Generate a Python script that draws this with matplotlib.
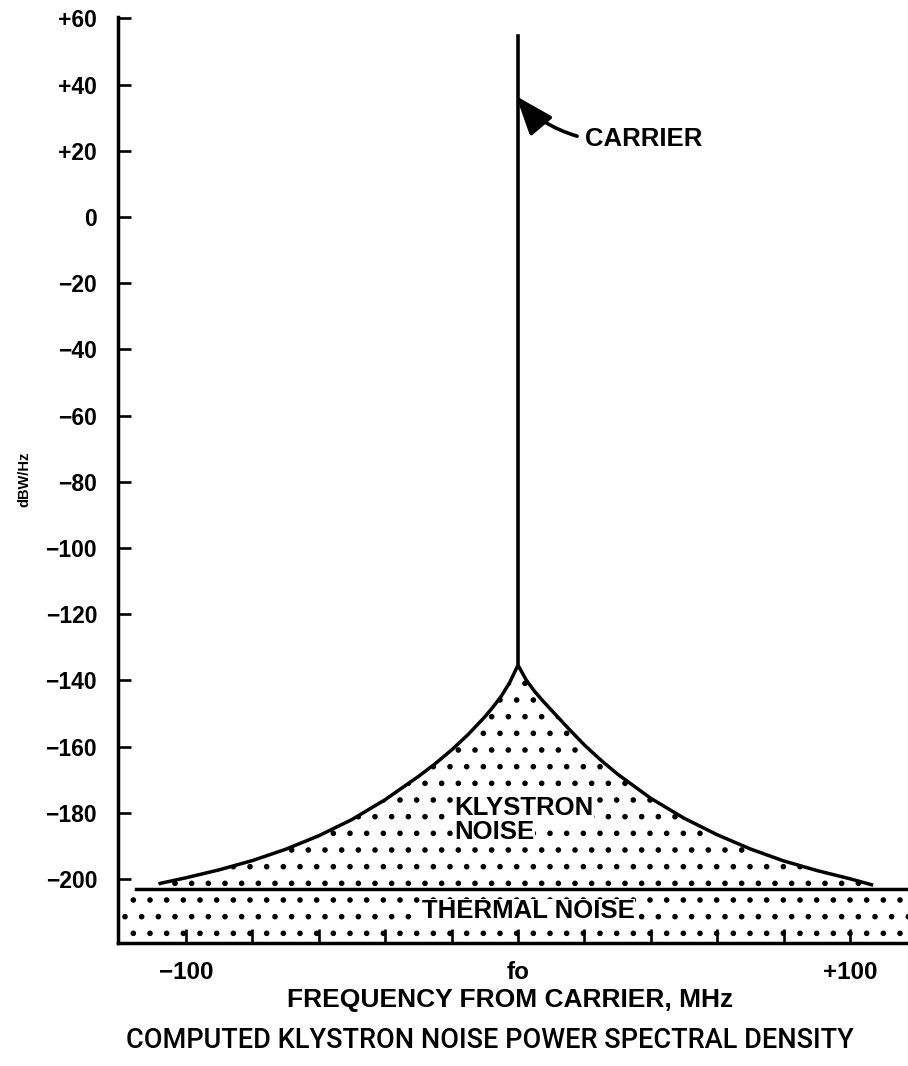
import numpy as np
import matplotlib
matplotlib.use("Agg")
import matplotlib.pyplot as plt

# Values (dBW/Hz vs MHz from carrier)
klystron_freq = [-107.8, -100, -90, -80, -70, -60, -50, -40, -30, -25, -20, -15, -10, -7.5, -5, -2.5, 0,
                 2.5, 5, 7.5, 10, 15, 20, 25, 30, 40, 50, 60, 70, 80, 90, 100, 106.5]
klystron_psd = [-201.3, -199.6, -197.2, -194.4, -191.0, -186.9, -182.0, -176.0, -169.0, -165.2,
                -161.0, -156.3, -151.0, -148.0, -144.7, -140.6, -135.4,
                -139.9, -143.3, -146.2, -148.9, -154.3, -159.5, -164.1, -168.3, -175.6, -181.6,
                -186.6, -190.9, -194.5, -197.4, -199.9, -201.7]
carrier_freq = 0.0
carrier_base = -135.4
carrier_top = 54.6
thermal_level = -203.0
thermal_start = -115.0

ytick_values = [60, 40, 20, 0, -20, -40, -60, -80, -100, -120, -140, -160, -180, -200]
ytick_labels = ["+60", "+40", "+20", "0", "\u221220", "\u221240", "\u221260", "\u221280",
                "\u2212100", "\u2212120", "\u2212140", "\u2212160", "\u2212180", "\u2212200"]
xtick_values = [-100, -80, -60, -40, -20, 0, 20, 40, 60, 80, 100]
xtick_labels = ["\u2212100", "", "", "", "", "fo", "", "", "", "", "+100"]

plt.rcParams['font.family'] = ['Liberation Sans', 'DejaVu Sans']
plt.rcParams['hatch.linewidth'] = 1.6

fig = plt.figure(figsize=(9.08, 10.66), dpi=100)
ax = fig.add_axes([0.130, 0.1154, 0.870, 0.869])
ax.set_xlim(-120.5, 117.5)
ax.set_ylim(-219.3, 60.5)

# stippled areas
x0, x1 = ax.get_xlim()
y0 = ax.get_ylim()[0]
ax.fill_between(klystron_freq, klystron_psd, thermal_level, facecolor='none',
                edgecolor='black', hatch='.', linewidth=0)
ax.fill_between([x0, x1], y0, thermal_level, facecolor='none',
                edgecolor='black', hatch='.', linewidth=0)

# curves
ax.plot(klystron_freq, klystron_psd, color='black', lw=2.5, solid_joinstyle='round')
ax.plot([thermal_start, x1], [thermal_level, thermal_level], color='black', lw=2.5)
ax.plot([carrier_freq, carrier_freq], [carrier_base, carrier_top], color='black', lw=2.6)

# carrier annotation
ax.annotate("", xy=(-0.6, 36.5), xytext=(17.8, 24.4),
            arrowprops=dict(arrowstyle='-|>,head_length=1.6,head_width=0.6',
                            connectionstyle='arc3,rad=-0.15', color='black',
                            lw=2.6, mutation_scale=15, shrinkA=0, shrinkB=0))
ax.text(20.2, 23.5, "CARRIER", fontsize=18.5, fontweight='bold', ha='left', va='center')

ax.text(-19.3, -178.6, "KLYSTRON", fontsize=18.5, fontweight='bold', ha='left', va='center',
        bbox=dict(facecolor='white', edgecolor='none', pad=0.3))
ax.text(-19.3, -185.9, "NOISE", fontsize=18.5, fontweight='bold', ha='left', va='center',
        bbox=dict(facecolor='white', edgecolor='none', pad=0.3))
ax.text(3.0, -209.7, "THERMAL NOISE", fontsize=18.5, fontweight='bold', ha='center', va='center',
        bbox=dict(facecolor='white', edgecolor='none', pad=0.3))

# axes styling
for side in ['top', 'right']:
    ax.spines[side].set_visible(False)
ax.spines['left'].set_linewidth(2.5)
ax.spines['bottom'].set_linewidth(2.5)

ax.set_yticks(ytick_values)
ax.set_yticklabels(ytick_labels, fontsize=16.5, fontweight='bold')
ax.set_xticks(xtick_values)
ax.set_xticklabels(xtick_labels, fontsize=17.5, fontweight='bold')
ax.tick_params(axis='y', direction='in', length=9, width=1.9, pad=15)
ax.tick_params(axis='x', direction='in', length=10, width=1.9, pad=13)

ax.set_ylabel("dBW/Hz", fontsize=10.5, fontweight='bold')
ax.yaxis.set_label_coords(-0.11, 0.5)

fig.text(0.562, 1 - 1000 / 1066, "FREQUENCY FROM CARRIER, MHz", fontsize=19,
         fontweight='bold', ha='center', va='center')
fig.text(0.54, 1 - 1040 / 1066, "COMPUTED KLYSTRON NOISE POWER SPECTRAL DENSITY",
         fontsize=19.5, ha='center', va='center',
         family=['Roboto', 'Liberation Sans'], fontweight='medium')

fig.savefig("out.png", dpi=100)
